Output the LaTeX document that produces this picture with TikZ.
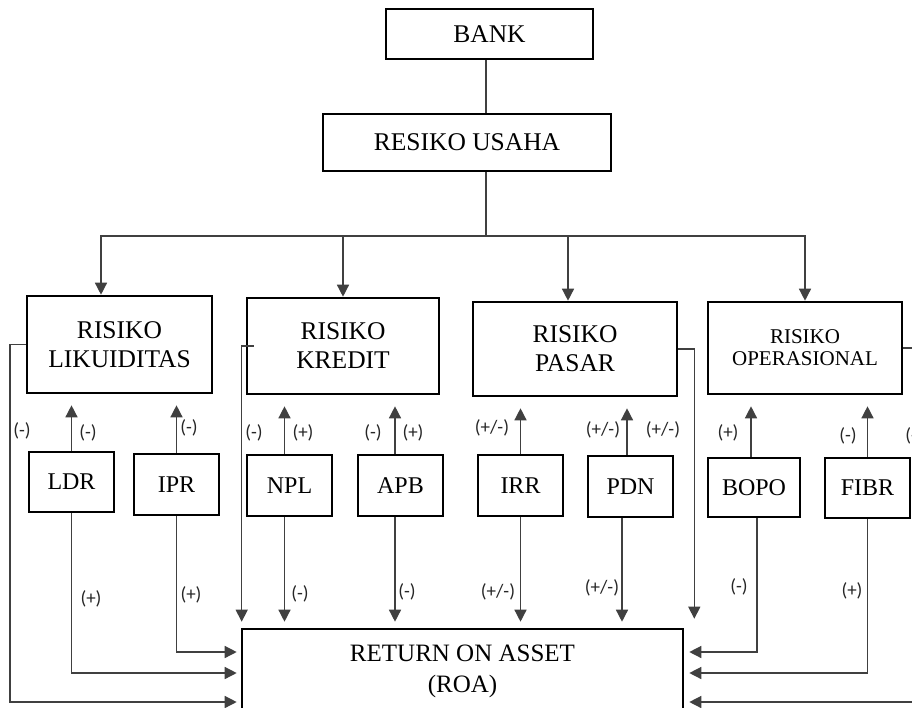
\documentclass[tikz,border=0pt]{standalone}
\usepackage{fontspec}
\setmainfont{Liberation Serif}
\newfontfamily\signfont{Carlito}
\usetikzlibrary{arrows.meta}

\begin{document}
\begin{tikzpicture}[x=1pt, y=-1pt,
    box/.style={rectangle, draw=black, line width=2.6pt, align=center, inner sep=0pt, font=\fontsize{25.5}{29}\selectfont},
    small/.style={box, minimum width=85pt, minimum height=61pt, font=\fontsize{24}{28}\selectfont},
    link/.style={draw=black!75, line width=1.4pt},
    arrow/.style={link, -{Triangle[length=12pt, width=12pt]}},
    sign/.style={font=\signfont\fontsize{19}{21}\selectfont, text=black!85, inner sep=0pt}
]

\useasboundingbox[fill=white] (0,0) rectangle (912,707);

\node[box, minimum width=207pt, minimum height=50pt] (bank) at (489.5,34) {BANK};
\node[box, minimum width=288pt, minimum height=57pt] (usaha) at (467,142.5) {RESIKO USAHA};

\node[box, minimum width=185pt, minimum height=97pt] (likuiditas) at (119.5,344.5) {RISIKO\\LIKUIDITAS};
\node[box, minimum width=192pt, minimum height=96pt] (kredit) at (343,346) {RISIKO\\KREDIT};
\node[box, minimum width=204pt, minimum height=94pt] (pasar) at (575,349) {RISIKO\\PASAR};
\node[box, minimum width=194pt, minimum height=92pt, font=\fontsize{21}{22}\selectfont] (operasional) at (805,348) {RISIKO\\OPERASIONAL};

\node[small, minimum height=60pt] (ldr) at (71.5,482) {LDR};
\node[small] (ipr) at (176.5,484.5) {IPR};
\node[small] (npl) at (289.5,485.5) {NPL};
\node[small] (apb) at (400.5,485.5) {APB};
\node[small] (irr) at (520.5,485.5) {IRR};
\node[small] (pdn) at (630.5,486.5) {PDN};
\node[small, minimum width=92pt, minimum height=59pt] (bopo) at (754,487.5) {BOPO};
\node[small, minimum height=60pt] (fibr) at (867.5,488) {FIBR};

\node[box, minimum width=441pt, minimum height=84pt, font=\fontsize{25}{31}\selectfont] (roa) at (462.5,671) {RETURN ON ASSET\\(ROA)};

\coordinate (split) at (486,236);
\coordinate (likturn) at (10,702);
\coordinate (opsturn) at (925,702);

\draw[link] (bank.south -| split) -- (usaha.north -| split);
\draw[link] (usaha.south -| split) -- (split);
\draw[arrow] (split) -| ([xshift=-18.5pt]likuiditas.north);
\draw[arrow] (split) -| (kredit.north);
\draw[arrow] (split) -| ([xshift=-7pt]pasar.north);
\draw[arrow] (split) -| (operasional.north);

\draw[arrow, shorten >=11pt] (ldr.north) -- (ldr.north |- likuiditas.south);
\draw[arrow, shorten >=11pt] (ipr.north) -- (ipr.north |- likuiditas.south);
\draw[arrow, shorten >=11pt] ([xshift=-5pt]npl.north) -- ([xshift=-5pt]npl.north |- kredit.south);
\draw[arrow, shorten >=11pt] ([xshift=-5.5pt]apb.north) -- ([xshift=-5.5pt]apb.north |- kredit.south);
\draw[arrow, shorten >=11pt] (irr.north) -- (irr.north |- pasar.south);
\draw[arrow, shorten >=11pt] ([xshift=-3.5pt]pdn.north) -- ([xshift=-3.5pt]pdn.north |- pasar.south);
\draw[arrow, shorten >=11pt] ([xshift=-3pt]bopo.north) -- ([xshift=-3pt]bopo.north |- operasional.south);
\draw[arrow, shorten >=11pt] (fibr.north) -- (fibr.north |- operasional.south);

\draw[arrow, shorten >=4pt] (likuiditas.west) -| (likturn) -- ([yshift=-31pt]roa.west);
\draw[arrow, shorten >=4pt] (ldr.south) |- ([yshift=-2pt]roa.west);
\draw[arrow, shorten >=4pt] (ipr.south) |- ([yshift=19pt]roa.west);
\draw[arrow, shorten >=6pt] ([xshift=8pt]kredit.west) -| ([xshift=1pt]roa.north west);
\draw[arrow, shorten >=6pt] ([xshift=-5pt]npl.south) -- ([xshift=-5pt]npl.south |- roa.north);
\draw[arrow, shorten >=6pt] ([xshift=-5.5pt]apb.south) -- ([xshift=-5.5pt]apb.south |- roa.north);
\draw[arrow, shorten >=6pt] (irr.south) -- (irr.south |- roa.north);
\draw[arrow, shorten >=6pt] ([xshift=-8.5pt]pdn.south) -- ([xshift=-8.5pt]pdn.south |- roa.north);
\draw[arrow, shorten >=9pt] (pasar.east) -| ([xshift=10pt]roa.north east);
\draw[arrow, shorten >=5pt] ([xshift=3pt]bopo.south) |- ([yshift=19pt]roa.east);
\draw[arrow, shorten >=5pt] (fibr.south) |- ([yshift=-2pt]roa.east);
\draw[arrow, shorten >=5pt] (operasional.east) -| (opsturn) -- ([yshift=-31pt]roa.east);

\node[sign] (likout) at (22,431) {(-)};
\node[sign] (ldrup) at (88,433) {(-)};
\node[sign] (iprup) at (189,428) {(-)};
\node[sign] (kreout) at (254,433) {(-)};
\node[sign] (nplup) at (303,433) {(+)};
\node[sign] (apbleft) at (373,433) {(-)};
\node[sign] (apbup) at (413,433) {(+)};
\node[sign] (irrup) at (492,428) {(+/-)};
\node[sign] (pdnup) at (603,430) {(+/-)};
\node[sign] (pasout) at (663,430) {(+/-)};
\node[sign] (bopoup) at (728,433) {(+)};
\node[sign] (fibrup) at (848,436) {(-)};
\node[sign] (opsout) at (914,436) {(-)};

\node[sign] (ldrdown) at (91,599) {(+)};
\node[sign] (iprdown) at (191,595) {(+)};
\node[sign] (npldown) at (300,594) {(-)};
\node[sign] (apbdown) at (407,592) {(-)};
\node[sign] (irrdown) at (498,592) {(+/-)};
\node[sign] (pdndown) at (602,588) {(+/-)};
\node[sign] (bopodown) at (739,587) {(-)};
\node[sign] (fibrdown) at (852,591) {(+)};

\end{tikzpicture}
\end{document}
